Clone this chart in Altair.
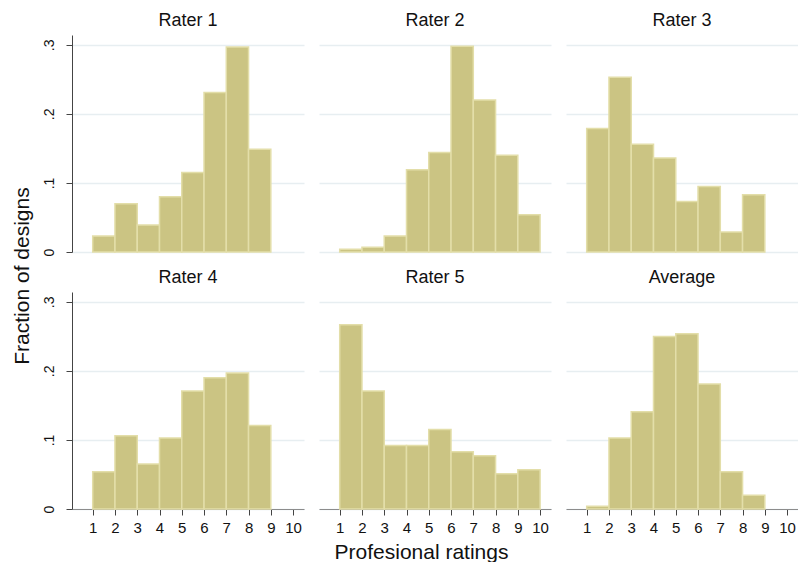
import altair as alt
import pandas as pd

# ---- data (fraction of designs per rating bin) ----
panel_names = ["Rater 1", "Rater 2", "Rater 3", "Rater 4", "Rater 5", "Average"]
rater1 = [0.023, 0.070, 0.039, 0.080, 0.115, 0.231, 0.297, 0.149]
rater2 = [0.004, 0.007, 0.023, 0.119, 0.144, 0.298, 0.220, 0.140, 0.054]
rater3 = [0.179, 0.253, 0.156, 0.136, 0.073, 0.095, 0.029, 0.083]
rater4 = [0.054, 0.106, 0.065, 0.103, 0.171, 0.190, 0.197, 0.121]
rater5 = [0.267, 0.171, 0.092, 0.092, 0.115, 0.083, 0.077, 0.051, 0.057]
average = [0.004, 0.103, 0.141, 0.250, 0.254, 0.181, 0.054, 0.020]
first_bin = 1
bin_width = 1
x_ticks = [1, 2, 3, 4, 5, 6, 7, 8, 9, 10]
y_ticks = [0, 0.1, 0.2, 0.3]
x_title = "Profesional ratings"
y_title = "Fraction of designs"

series = [rater1, rater2, rater3, rater4, rater5, average]

FONT = "Liberation Sans"
FILL = "#cbc483"
EDGE = "#e3dea9"
GRID = "#e7eef1"


def make_df(vals):
    lo = [first_bin + i * bin_width for i in range(len(vals))]
    hi = [v + bin_width for v in lo]
    return pd.DataFrame({"lo": lo, "hi": hi, "frac": vals})


xscale = alt.Scale(domain=[0.07, 10.49], nice=False, zero=False)
yscale = alt.Scale(domain=[0, 0.3143], nice=False, zero=True)


def panel(idx):
    name = panel_names[idx]
    left = idx % 3 == 0
    bottom = idx >= 3
    if left:
        yaxis = alt.Axis(
            values=y_ticks, grid=True, gridColor=GRID, gridWidth=1.5,
            title=None, labelAngle=270, labelAlign="center", labelBaseline="bottom",
            labelFontSize=14, labelFont=FONT, labelColor="#111",
            labelPadding=10, tickSize=6, tickColor="#444", domainColor="#444",
            labelExpr="datum.value == 0 ? '0' : '.' + round(datum.value * 10)",
        )
    else:
        yaxis = alt.Axis(
            values=y_ticks, grid=True, gridColor=GRID, gridWidth=1.5,
            title=None, labels=False, ticks=False, domain=False,
        )
    if bottom:
        xaxis = alt.Axis(
            values=x_ticks, grid=False, labelFontSize=15, labelFont=FONT,
            labelColor="#111", labelPadding=5, tickSize=6, tickColor="#444",
            domainColor="#8c8c8c", domainWidth=1.2, labelFlush=False,
            title=x_title if idx == 4 else None,
            titleFont=FONT, titleFontSize=21, titleFontWeight="normal",
            titleColor="#111", titlePadding=6, titleX=102,
        )
    else:
        xaxis = None
    return (
        alt.Chart(make_df(series[idx]))
        .mark_bar(fill=FILL, stroke=EDGE, strokeWidth=1.5)
        .encode(
            x=alt.X("lo:Q", scale=xscale, axis=xaxis),
            x2="hi:Q",
            y=alt.Y("frac:Q", scale=yscale, axis=yaxis),
            y2=alt.datum(0),
        )
        .properties(
            width=232, height=217,
            title=alt.TitleParams(
                name, fontSize=18, font=FONT, fontWeight="normal",
                color="#111", offset=5,
            ),
        )
    )


chart = (
    alt.concat(*[panel(i) for i in range(6)], columns=3,
               spacing=alt.RowColnumber(row=13, column=15))
    .properties(
        title=alt.TitleParams(
            y_title, orient="left", anchor="middle", fontSize=21, font=FONT,
            fontWeight="normal", color="#111", offset=9, dx=11,
        ),
        padding={"left": 3, "top": 4, "right": 0, "bottom": 0},
        background="white",
    )
    .configure_view(stroke=None)
)

chart.save("out.html", embed_options={"renderer": "svg", "actions": False})
